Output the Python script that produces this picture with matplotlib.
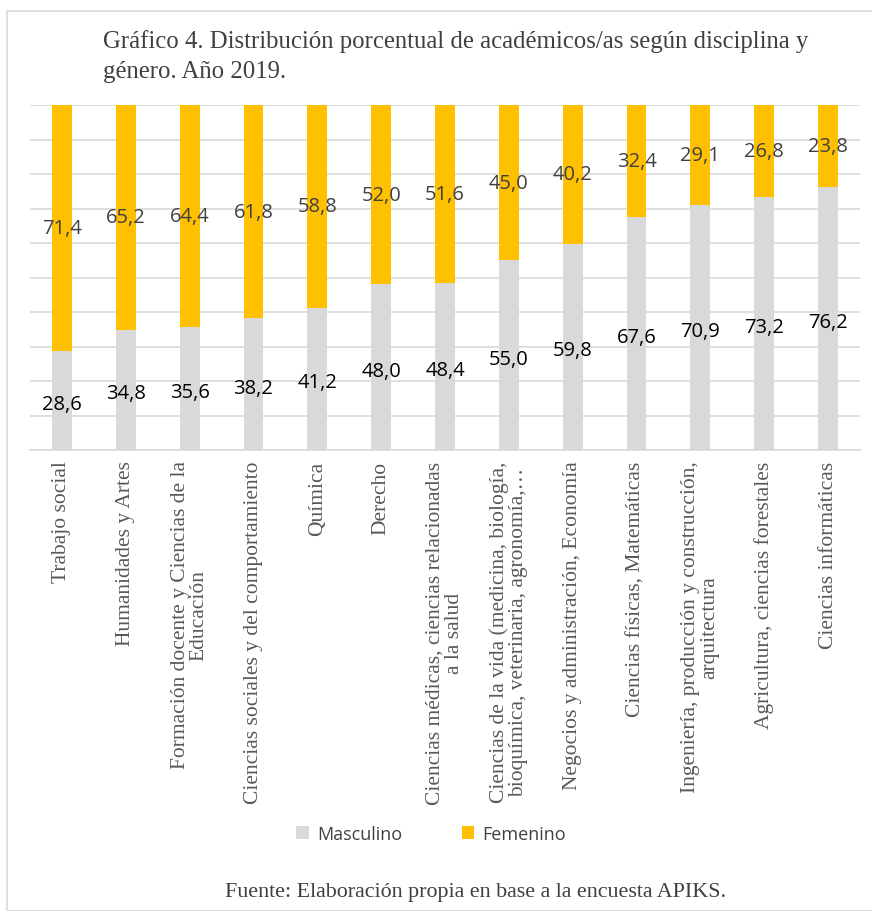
import matplotlib
matplotlib.use("Agg")
import matplotlib.pyplot as plt
from matplotlib.patches import Rectangle
import numpy as np

categories = [
    "Trabajo social",
    "Humanidades y Artes",
    "Formación docente y Ciencias de la\nEducación",
    "Ciencias sociales y del comportamiento",
    "Química",
    "Derecho",
    "Ciencias médicas, ciencias relacionadas\na la salud",
    "Ciencias de la vida (medicina, biología,\nbioquímica, veterinaria, agronomía,…",
    "Negocios y administración, Economía",
    "Ciencias físicas, Matemáticas",
    "Ingeniería, producción y construcción,\narquitectura",
    "Agricultura, ciencias forestales",
    "Ciencias informáticas",
]
masculino = [28.6, 34.8, 35.6, 38.2, 41.2, 48.0, 48.4, 55.0, 59.8, 67.6, 70.9, 73.2, 76.2]
femenino = [71.4, 65.2, 64.4, 61.8, 58.8, 52.0, 51.6, 45.0, 40.2, 32.4, 29.1, 26.8, 23.8]

title = "Gráfico 4. Distribución porcentual de académicos/as según disciplina y\ngénero. Año 2019."
source = "Fuente: Elaboración propia en base a la encuesta APIKS."

GRAY = "#D9D9D9"
YELLOW = "#FFC000"
SERIF = ["Liberation Serif", "DejaVu Serif"]
SANS = ["Open Sans", "DejaVu Sans"]

fig = plt.figure(figsize=(8.72, 9.12), dpi=100)
fig.patches.append(Rectangle((7/872, 0), 1, 1 - 12/912, transform=fig.transFigure,
                             fill=False, edgecolor="#D9D9D9", linewidth=1.2))

ax = fig.add_axes([30/872, 1 - 451/912, 830/872, 345/912])
x = np.arange(len(categories))
w = 0.31
ax.bar(x, masculino, w, color=GRAY, label="Masculino", zorder=2)
ax.bar(x, femenino, w, bottom=masculino, color=YELLOW, label="Femenino", zorder=2)

def fmt(v):
    return f"{v:.1f}".replace(".", ",")

for i in range(len(categories)):
    ax.text(x[i], masculino[i] / 2 - 1, fmt(masculino[i]), ha="center", va="center",
            fontsize=14.5, color="black", family=SANS, zorder=3)
    ax.text(x[i], masculino[i] + femenino[i] / 2, fmt(femenino[i]), ha="center", va="center",
            fontsize=14.5, color="#404040", family=SANS, zorder=3)

ax.set_xlim(-0.5, len(categories) - 0.5)
ax.set_ylim(0, 100)
ax.set_yticks(np.arange(0, 101, 10))
ax.yaxis.grid(True, color=GRAY, linewidth=1.2, zorder=0)
ax.tick_params(axis="y", left=False, labelleft=False)
ax.tick_params(axis="x", bottom=False, pad=4)
for s in ["top", "right", "left"]:
    ax.spines[s].set_visible(False)
ax.spines["bottom"].set_color(GRAY)
ax.spines["bottom"].set_linewidth(1.2)
ax.set_xticks(x)
ax.set_xticklabels(categories, rotation=90, fontsize=15.5, color="#595959",
                   family=SERIF, ha="center", va="top", multialignment="center",
                   linespacing=1.0)

fig.text(103/872, 1 - 30/912, title, ha="left", va="top", fontsize=17.8,
         color="#404040", family=SERIF, linespacing=1.5)

leg = fig.legend(loc="center", bbox_to_anchor=(431/872, 1 - 835/912), ncol=2,
                 frameon=False, handlelength=0.7, handleheight=0.7,
                 columnspacing=3.3, handletextpad=0.45, prop={"family": SANS, "size": 13})
for t in leg.get_texts():
    t.set_color("#404040")

fig.text(476/872, 1 - 893/912, source, ha="center", va="center", fontsize=15.8,
         color="#404040", family=SERIF)

fig.savefig("out.png", dpi=100)
